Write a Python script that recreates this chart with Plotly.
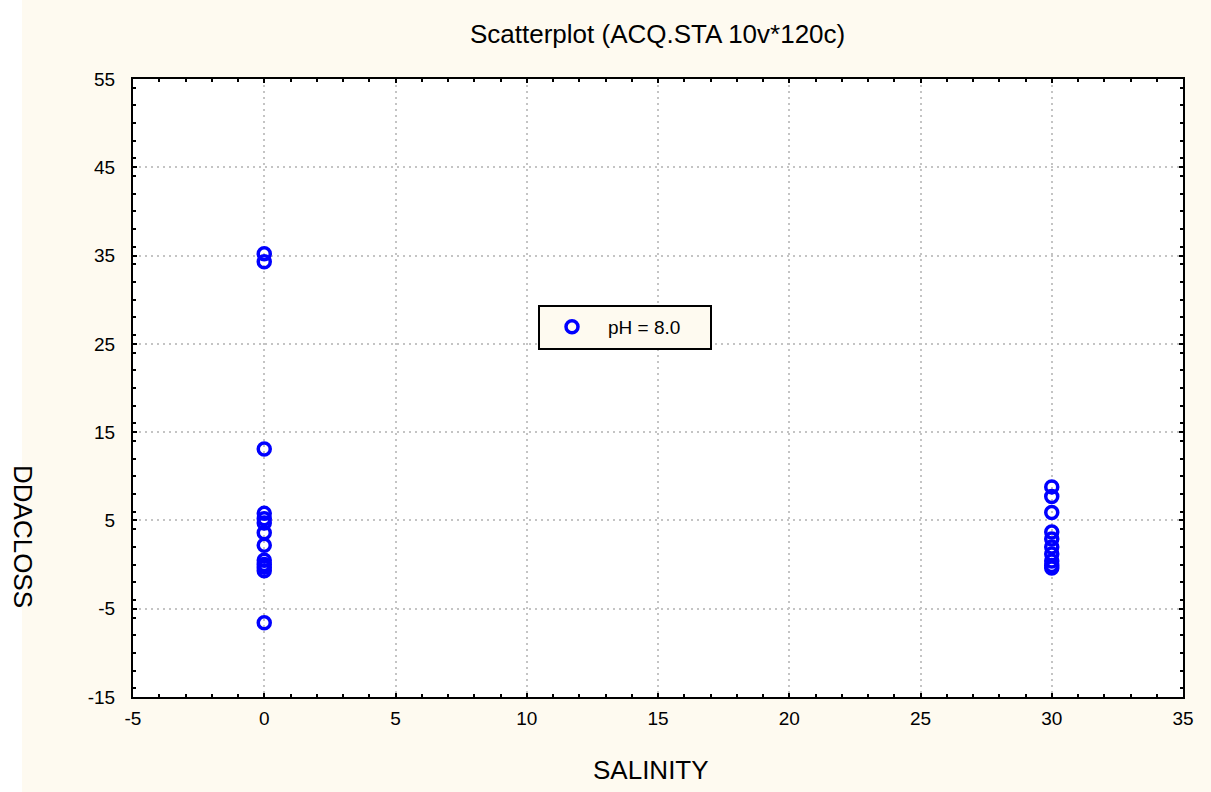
import plotly.graph_objects as go

# Data
salinity_0 = [0, 0, 0, 0, 0, 0, 0, 0, 0, 0, 0, 0, 0]
ddacloss_0 = [35.2, 34.3, 13.1, 5.8, 5.2, 4.7, 3.6, 2.2, 0.5, 0.0, -0.3, -0.7, -6.6]
salinity_30 = [30, 30, 30, 30, 30, 30, 30, 30, 30, 30]
ddacloss_30 = [8.8, 7.7, 5.9, 3.7, 2.9, 2.0, 1.2, 0.4, -0.1, -0.4]

x_ticks = [-5, 0, 5, 10, 15, 20, 25, 30, 35]
x_tick_labels = ["-5", "0", "5", "10", "15", "20", "25", "30", "35"]
y_ticks = [-15, -5, 5, 15, 25, 35, 45, 55]
y_tick_labels = ["-15", "-5", "5", "15", "25", "35", "45", "55"]

series_name = "pH = 8.0"
title_text = "Scatterplot (ACQ.STA 10v*120c)"
x_title = "SALINITY"
y_title = "DDACLOSS"

cream = "#FEFAF0"
font_family = "Liberation Sans, Arial, sans-serif"

# plot-area geometry (pixels)
L, R, T, B = 133, 1183, 79, 697
W, H = R - L, B - T


def px(xp):
    return (xp - L) / W


def py(yp):
    return (B - yp) / H


fig = go.Figure()
fig.add_trace(go.Scatter(
    x=salinity_0 + salinity_30,
    y=ddacloss_0 + ddacloss_30,
    mode="markers",
    name=series_name,
    marker=dict(symbol="circle-open", size=12, color="#0000FF",
                line=dict(width=3.5, color="#0000FF")),
))

axis_common = dict(
    showline=True, linecolor="black", linewidth=2, mirror="allticks",
    ticks="inside", ticklen=4, tickwidth=2, tickcolor="black",
    showgrid=True, gridcolor="#C4C4C4", griddash="2px,4px", gridwidth=2,
    zeroline=False,
    tickfont=dict(family=font_family, size=19, color="black"),
)

fig.update_layout(
    width=1211, height=792,
    margin=dict(l=L, r=1211 - R, t=T, b=792 - B),
    paper_bgcolor=cream,
    plot_bgcolor="white",
    font=dict(family=font_family, color="black"),
    xaxis=dict(range=[-5, 35], tickvals=x_ticks, ticktext=x_tick_labels,
               ticklabelstandoff=3, **axis_common,
               minor=dict(dtick=1, ticks="inside", ticklen=3, tickwidth=2,
                          tickcolor="black", showgrid=False)),
    yaxis=dict(range=[-15, 55], tickvals=y_ticks, ticktext=y_tick_labels,
               ticklabelstandoff=12, **axis_common,
               minor=dict(dtick=2, ticks="inside", ticklen=3, tickwidth=2,
                          tickcolor="black", showgrid=False)),
    showlegend=True,
    legend=dict(x=px(536), y=py(327), xanchor="left", yanchor="middle",
                bgcolor="rgba(0,0,0,0)", borderwidth=0,
                font=dict(family=font_family, size=19, color="black"),
                itemwidth=62),
    annotations=[
        dict(text=title_text, xref="paper", yref="paper", x=px(657), y=py(34),
             xanchor="center", yanchor="middle", showarrow=False,
             font=dict(family=font_family, size=26, color="black")),
        dict(text=x_title, xref="paper", yref="paper", x=px(651), y=py(770),
             xanchor="center", yanchor="middle", showarrow=False,
             font=dict(family=font_family, size=26, color="black")),
        dict(text=y_title, textangle=90, xref="paper", yref="paper",
             x=px(23), y=py(536), xanchor="center", yanchor="middle",
             showarrow=False, font=dict(family=font_family, size=26, color="black")),
    ],
    shapes=[
        dict(type="rect", xref="paper", yref="paper",
             x0=px(0), x1=px(22), y0=-0.3, y1=1.3,
             fillcolor="white", line=dict(width=0), layer="below"),
        dict(type="rect", xref="paper", yref="paper",
             x0=px(539), x1=px(711), y0=py(349), y1=py(306),
             fillcolor=cream, line=dict(width=2, color="black"), layer="above"),
    ],
)

fig.write_html("out.html")
